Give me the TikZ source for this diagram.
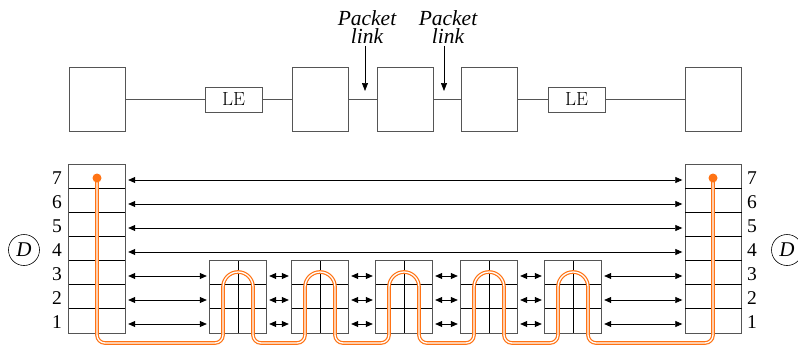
\documentclass[tikz,border=0pt]{standalone}
\usepackage{fontspec}
\newfontfamily\tnr{Liberation Serif}
\usetikzlibrary{arrows.meta}
\definecolor{edge}{RGB}{85,85,85}
\definecolor{orng}{RGB}{255,115,20}
\begin{document}
\begin{tikzpicture}[x=1pt,y=-1pt,
  box/.style={draw=edge, line width=0.8pt, minimum width=56pt, minimum height=64pt, inner sep=0pt},
  lebox/.style={draw=edge, line width=0.8pt, minimum width=57pt, minimum height=25pt, inner sep=0pt, font=\fontsize{19}{19}\selectfont},
  cell/.style={minimum width=56pt, minimum height=24pt, inner sep=0pt},
  outline/.style={draw=edge, line width=0.8pt},
  sep/.style={draw=black, line width=1pt},
  mid/.style={draw=black, line width=0.6pt},
  lvl/.style={font=\tnr\fontsize{19.5}{19.5}\selectfont, inner sep=0pt},
  conn/.style={draw=edge, line width=0.8pt},
  biarrow/.style={{Triangle[length=7pt,width=6pt]}-{Triangle[length=7pt,width=6pt]}, line width=0.7pt, shorten >=3pt, shorten <=3pt},
  downarrow/.style={-{Triangle[length=8pt,width=6pt]}, line width=0.7pt},
  ital/.style={font=\tnr\itshape\fontsize{21.5}{18.5}\selectfont, inner sep=0pt, align=center, anchor=north},
  dcirc/.style={draw=black, line width=0.6pt, circle, minimum size=31pt, inner sep=0pt, font=\tnr\itshape\fontsize{21}{21}\selectfont},
  opath/.style={draw=orng, double=white, line width=1.2pt, double distance=1.3pt}
]
\useasboundingbox (0,0) rectangle (798,351);

% ---------- top row ----------
\node[box] (T1) at (97,99.5) {};
\node[lebox] (LE1) at (233.5,99.5) {LE};
\node[box] (T2) at (320.5,99.5) {};
\node[box] (T3) at (405,99.5) {};
\node[box] (T4) at (489,99.5) {};
\node[lebox] (LE2) at (576.5,99.5) {LE};
\node[box] (T5) at (713.5,99.5) {};
\draw[conn] (T1) -- (LE1);
\draw[conn] (LE1) -- (T2);
\draw[conn] (T2) -- (T3);
\draw[conn] (T3) -- (T4);
\draw[conn] (T4) -- (LE2);
\draw[conn] (LE2) -- (T5);

\node[ital] (P1) at (367,10) {Packet\\link};
\node[ital] (P2) at (448,10) {Packet\\link};
\coordinate (a1) at (365,91);
\coordinate (a2) at (444,91);
\draw[downarrow] (a1 |- P1.south) ++(0,2) -- (a1);
\draw[downarrow] (a2 |- P2.south) ++(0,2) -- (a2);

% ---------- stacks ----------
\foreach \i in {1,...,7} {
  \node[cell] (L\i) at (97,{345-24*\i}) {};
  \node[cell] (R\i) at (713.5,{345-24*\i}) {};
  \node[lvl] (nl\i) at (57,{345-24*\i+1}) {\i};
  \node[lvl] (nr\i) at (752,{345-24*\i+1}) {\i};
}
\draw[outline] (L7.north west) rectangle (L1.south east);
\draw[outline] (R7.north west) rectangle (R1.south east);
\foreach \i in {1,...,6} {
  \draw[sep] (L\i.north west) -- (L\i.north east);
  \draw[sep] (R\i.north west) -- (R\i.north east);
}

% ---------- blocks ----------
\foreach \c [count=\k] in {238,320,404,489,573} {
  \foreach \i in {1,2,3} {
    \node[cell] (B\k-\i) at (\c,{345-24*\i}) {};
  }
  \draw[outline] (B\k-3.north west) rectangle (B\k-1.south east);
  \draw[sep] (B\k-1.north west) -- (B\k-1.north east);
  \draw[sep] (B\k-2.north west) -- (B\k-2.north east);
  \draw[mid] (B\k-3.north) -- (B\k-1.south);
}

% ---------- arrows ----------
\foreach \i in {4,...,7} {
  \draw[biarrow] ([yshift=-3pt]L\i.east) -- ([yshift=-3pt]R\i.west);
}
\foreach \i in {1,2,3} {
  \draw[biarrow] ([yshift=-3pt]L\i.east) -- ([yshift=-3pt]B1-\i.west);
  \draw[biarrow] ([yshift=-3pt]B1-\i.east) -- ([yshift=-3pt]B2-\i.west);
  \draw[biarrow] ([yshift=-3pt]B2-\i.east) -- ([yshift=-3pt]B3-\i.west);
  \draw[biarrow] ([yshift=-3pt]B3-\i.east) -- ([yshift=-3pt]B4-\i.west);
  \draw[biarrow] ([yshift=-3pt]B4-\i.east) -- ([yshift=-3pt]B5-\i.west);
  \draw[biarrow] ([yshift=-3pt]B5-\i.east) -- ([yshift=-3pt]R\i.west);
}

% ---------- D circles ----------
\node[dcirc] (DL) at (24,250) {D};
\node[dcirc] (DR) at (787,250) {D};

% ---------- orange path ----------
\draw[opath] (97,178) -- (97,335) arc[start angle=180,end angle=270,radius=8pt]
  \foreach \c in {238,320,404,489,573} {
    -- ({\c-23},343) arc[start angle=-90,end angle=0,radius=8pt]
    -- ({\c-15},287) arc[start angle=180,end angle=0,radius=15pt]
    -- ({\c+15},335) arc[start angle=180,end angle=270,radius=8pt]
  }
  -- (705,343) arc[start angle=-90,end angle=0,radius=8pt] -- (713,178);
\fill[orng] (97,178) circle[radius=4.5pt];
\fill[orng] (713,178) circle[radius=4.5pt];
\end{tikzpicture}
\end{document}
